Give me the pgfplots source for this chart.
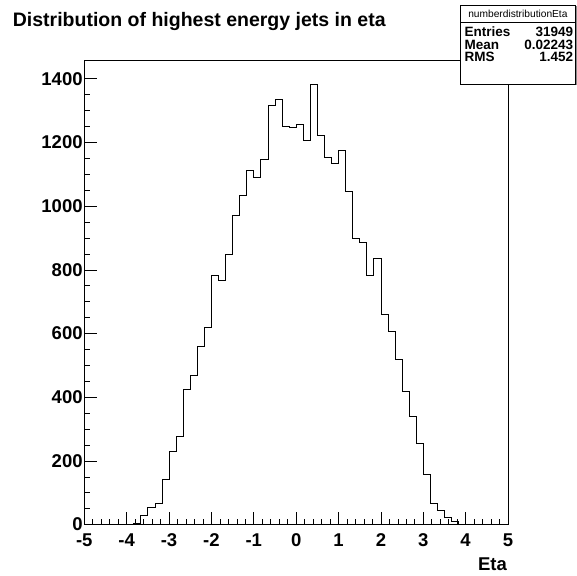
\documentclass[border=0pt]{standalone}
\usepackage{pgfplots}
\pgfplotsset{compat=1.18}
\usepackage{fontspec}
\setmainfont{Liberation Sans}
\begin{document}
\begin{tikzpicture}[x=1pt,y=1pt]
\path[use as bounding box] (0,0) rectangle (577,575);
\begin{axis}[
  at={(84.3pt,50.4pt)}, anchor=south west,
  scale only axis, width=423.7pt, height=464.6pt,
  xmin=-5, xmax=5, ymin=0, ymax=1459,
  xtick={-5,-4,-3,-2,-1,0,1,2,3,4,5},
  xticklabels={-5,-4,-3,-2,-1,0,1,2,3,4,5},
  minor x tick num=4,
  ytick={0,200,400,600,800,1000,1200,1400},
  yticklabels={0,200,400,600,800,1000,1200,1400},
  minor y tick num=3,
  tick align=inside, xtick pos=left, ytick pos=left,
  major tick length=13pt, minor tick length=6pt,
  axis line style={line width=0.8pt, black},
  tick style={line width=0.6pt, black},
  ticklabel style={font=\bfseries\fontsize{18.5}{18.5}\selectfont},
  xticklabel style={inner sep=0pt, anchor=north, yshift=-8.5pt},
  yticklabel style={inner sep=0pt, anchor=east, xshift=-1.5pt},
  scaled ticks=false,
]
\addplot[const plot, black, line width=0.8pt] coordinates {
(-4.1667,0) (-4.0,1) (-3.8333,5) (-3.6667,29) (-3.5,55) (-3.3333,67)
(-3.1667,141) (-3.0,231) (-2.8333,276) (-2.6667,424) (-2.5,469)
(-2.3333,560) (-2.1667,620) (-2.0,783) (-1.8333,766) (-1.6667,847)
(-1.5,970) (-1.3333,1035) (-1.1667,1111) (-1.0,1089) (-0.8333,1147)
(-0.6667,1315) (-0.5,1336) (-0.3333,1250) (-0.1667,1248) (0,1257)
(0.1667,1206) (0.3333,1383) (0.5,1221) (0.6667,1153) (0.8333,1134)
(1.0,1174) (1.1667,1045) (1.3333,900) (1.5,887) (1.6667,781)
(1.8333,837) (2.0,661) (2.1667,607) (2.3333,520) (2.5,417)
(2.6667,341) (2.8333,256) (3.0,157) (3.1667,66) (3.3333,46)
(3.5,24) (3.6667,10) (3.8333,2) (4.0,0)
};
\end{axis}
% title
\node[anchor=base west, inner sep=0pt, font=\bfseries\fontsize{19.5}{19.5}\selectfont] at (12.7,548.3) {Distribution of highest energy jets in eta};
% x label
\node[anchor=base east, inner sep=0pt, font=\bfseries\fontsize{18.5}{18.5}\selectfont] at (507,5) {Eta};
% stats box
\fill[black!45] (461.2,489.5) rectangle (576.9,568.8);
\filldraw[fill=white, draw=black, line width=0.8pt] (460,490.7) rectangle (575.7,570);
\draw[line width=0.8pt] (460,552.3) -- (575.7,552.3);
\node[anchor=base, inner sep=0pt, font=\fontsize{10.2}{10.2}\selectfont] at (517.9,557.5) {numberdistributionEta};
\node[anchor=base west, inner sep=0pt, font=\bfseries\fontsize{13.5}{13.5}\selectfont] at (464.3,538.3) {Entries};
\node[anchor=base east, inner sep=0pt, font=\bfseries\fontsize{13.5}{13.5}\selectfont] at (573.3,538.3) {31949};
\node[anchor=base west, inner sep=0pt, font=\bfseries\fontsize{13.5}{13.5}\selectfont] at (464.3,525.7) {Mean};
\node[anchor=base east, inner sep=0pt, font=\bfseries\fontsize{13.5}{13.5}\selectfont] at (573.3,525.7) {0.02243};
\node[anchor=base west, inner sep=0pt, font=\bfseries\fontsize{13.5}{13.5}\selectfont] at (464.3,513.3) {RMS};
\node[anchor=base east, inner sep=0pt, font=\bfseries\fontsize{13.5}{13.5}\selectfont] at (573.3,513.3) {1.452};
\end{tikzpicture}
\end{document}
